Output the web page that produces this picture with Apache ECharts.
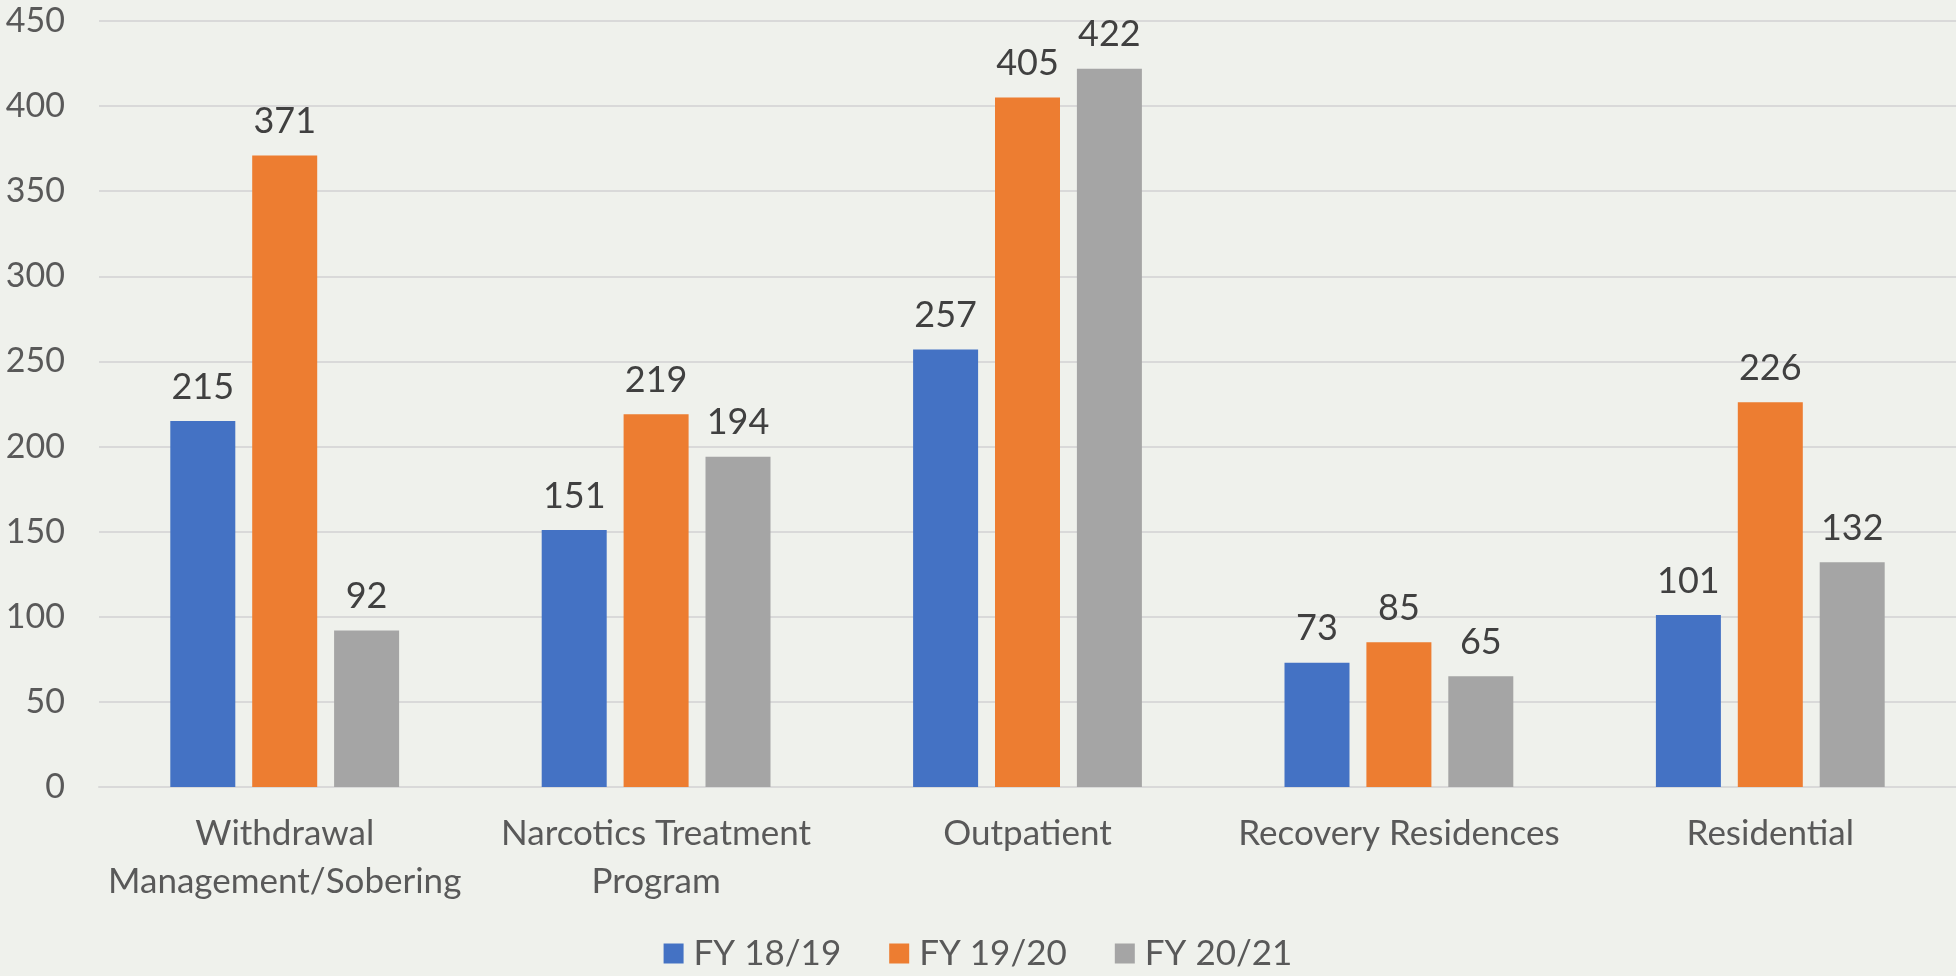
<!DOCTYPE html>
<html lang="en">
<head>
    <meta charset="UTF-8">
    <title>Chart</title>
    <style>
        html, body { margin: 0; padding: 0; background: #EFF1EC; }
    </style>
</head>
<body>
<div id="myChart" style="width: 1956px;height: 976px;"></div>
<script src="https://cdn.jsdelivr.net/npm/echarts@6/dist/echarts.min.js"></script>
<script>
    var categories = ['Withdrawal\nManagement/Sobering', 'Narcotics Treatment\nProgram', 'Outpatient', 'Recovery Residences', 'Residential'];
    var seriesNames = ['FY 18/19', 'FY 19/20', 'FY 20/21'];
    var fy1819 = [215, 151, 257, 73, 101];
    var fy1920 = [371, 219, 405, 85, 226];
    var fy2021 = [92, 194, 422, 65, 132];
    var colors = ['#4472C4', '#ED7D31', '#A5A5A5'];

    var myChart = echarts.init(document.getElementById('myChart'));
    var font = 'Lato';

    function bar(name, data, color) {
        return {
            name: name,
            type: 'bar',
            data: data,
            barWidth: 65,
            barGap: '26%',
            itemStyle: { color: color },
            label: {
                show: true,
                position: 'top',
                distance: 16,
                color: '#404040',
                fontFamily: font,
                fontSize: 36
            }
        };
    }

    var option = {
        backgroundColor: '#EFF1EC',
        animation: false,
        color: colors,
        grid: { left: 99, right: 0, top: 21, bottom: 189 },
        legend: {
            bottom: 0,
            left: 'center',
            itemWidth: 20,
            itemHeight: 20,
            itemGap: 48,
            icon: 'rect',
            textStyle: { color: '#595959', fontFamily: font, fontSize: 35, padding: [0, 0, 0, 5] },
            data: seriesNames
        },
        xAxis: {
            type: 'category',
            data: categories,
            axisLine: { lineStyle: { color: '#D9D9D9', width: 2 } },
            axisTick: { show: false },
            axisLabel: {
                color: '#595959',
                fontFamily: font,
                fontSize: 35,
                lineHeight: 48,
                margin: 23,
                interval: 0
            }
        },
        yAxis: {
            type: 'value',
            min: 0,
            max: 450,
            interval: 50,
            axisLine: { show: false },
            axisTick: { show: false },
            splitLine: { lineStyle: { color: '#D9D9D9', width: 2 } },
            axisLabel: {
                color: '#595959',
                fontFamily: font,
                fontSize: 34,
                margin: 34
            }
        },
        series: [
            bar(seriesNames[0], fy1819, colors[0]),
            bar(seriesNames[1], fy1920, colors[1]),
            bar(seriesNames[2], fy2021, colors[2])
        ]
    };
    myChart.setOption(option);
</script>
</body>
</html>
